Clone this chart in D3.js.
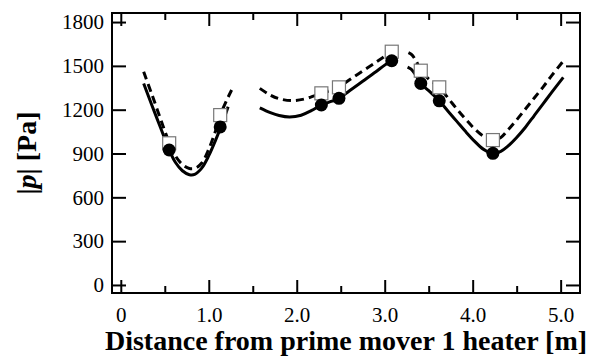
<!DOCTYPE html>
<html>
<head>
<meta charset="utf-8">
<script src="https://cdn.jsdelivr.net/npm/d3@7"></script>
<style>
  body { margin: 0; background: #fff; }
  svg text { font-family: "Liberation Serif", "Times New Roman", serif; }
</style>
</head>
<body>
<div id="chart"></div>
<script>
// measured points (solid line = filled circles, dashed line = open squares)
const markerX = [0.55, 1.13, 2.28, 2.48, 3.08, 3.41, 3.62, 4.23];
const circleP = [924, 1082, 1232, 1278, 1535, 1380, 1261, 901];
const squareP = [970, 1163, 1312, 1353, 1597, 1467, 1353, 992];

// calculated curves, three sections each
const solidX1 = [0.26, 0.35, 0.45, 0.55, 0.62, 0.70, 0.78, 0.84, 0.92, 1.00, 1.08, 1.15, 1.22];
const solidP1 = [1380, 1235, 1080, 925, 840, 782, 755, 757, 800, 885, 995, 1100, 1220];
const solidX2 = [1.58, 1.70, 1.80, 1.92, 2.05, 2.17, 2.28, 2.40, 2.48, 2.60, 2.75, 2.90, 3.00, 3.10];
const solidP2 = [1213, 1180, 1160, 1150, 1162, 1195, 1232, 1258, 1278, 1330, 1395, 1460, 1505, 1545];
const solidX3 = [3.26, 3.30, 3.35, 3.41, 3.50, 3.62, 3.72, 3.82, 3.92, 4.02, 4.12, 4.23, 4.32, 4.40, 4.50, 4.60, 4.70, 4.80, 4.90, 5.03];
const solidP3 = [1492, 1478, 1440, 1380, 1330, 1261, 1190, 1120, 1050, 985, 930, 901, 915, 950, 1010, 1080, 1160, 1240, 1320, 1421];

const dashX1 = [0.26, 0.35, 0.45, 0.55, 0.62, 0.70, 0.78, 0.85, 0.92, 1.00, 1.08, 1.13, 1.20, 1.26];
const dashP1 = [1460, 1310, 1140, 975, 885, 825, 797, 800, 835, 930, 1060, 1160, 1260, 1335];
const dashX2 = [1.58, 1.70, 1.80, 1.95, 2.10, 2.20, 2.28, 2.40, 2.48, 2.60, 2.75, 2.90, 3.00, 3.10];
const dashP2 = [1346, 1300, 1275, 1262, 1275, 1295, 1312, 1335, 1353, 1405, 1465, 1525, 1565, 1605];
const dashX3 = [3.27, 3.31, 3.36, 3.41, 3.50, 3.62, 3.72, 3.82, 3.92, 4.02, 4.12, 4.23, 4.32, 4.40, 4.50, 4.60, 4.70, 4.80, 4.90, 5.04];
const dashP3 = [1590, 1575, 1530, 1467, 1410, 1353, 1280, 1205, 1135, 1070, 1020, 992, 1010, 1060, 1130, 1205, 1280, 1355, 1435, 1540];

const xTicks = [0, 1, 2, 3, 4, 5];
const xMinor = [0.5, 1.5, 2.5, 3.5, 4.5];
const yTicks = [0, 300, 600, 900, 1200, 1500, 1800];

const W = 602, H = 363;
const margin = { left: 112, right: 580, top: 13, bottom: 293 };
const serif = '"Liberation Serif", "Times New Roman", serif';

const svg = d3.select('#chart').append('svg')
  .attr('width', W)
  .attr('height', H);

const x = d3.scaleLinear().domain([-0.1, 5.22]).range([margin.left, margin.right]);
const y = d3.scaleLinear().domain([-55, 1862]).range([margin.bottom, margin.top]);

function styleAxis(g) {
  g.attr('font-family', serif);
  g.select('.domain').remove();
  g.selectAll('line').attr('stroke', '#000').attr('stroke-width', 2);
  g.selectAll('text').attr('font-size', '21px').attr('fill', '#000');
}

// bottom
svg.append('g')
  .attr('transform', `translate(0,${margin.bottom})`)
  .call(d3.axisBottom(x).tickValues(xTicks).tickSize(-13).tickSizeOuter(0).tickPadding(14)
    .tickFormat(d => d === 0 ? '0' : d.toFixed(1)))
  .call(styleAxis);
svg.append('g')
  .attr('transform', `translate(0,${margin.bottom})`)
  .call(d3.axisBottom(x).tickValues(xMinor).tickSize(-7).tickSizeOuter(0).tickFormat(''))
  .call(styleAxis);
// top
svg.append('g')
  .attr('transform', `translate(0,${margin.top})`)
  .call(d3.axisTop(x).tickValues(xTicks).tickSize(-13).tickSizeOuter(0).tickFormat(''))
  .call(styleAxis);
svg.append('g')
  .attr('transform', `translate(0,${margin.top})`)
  .call(d3.axisTop(x).tickValues(xMinor).tickSize(-7).tickSizeOuter(0).tickFormat(''))
  .call(styleAxis);
// left
svg.append('g')
  .attr('transform', `translate(${margin.left},0)`)
  .call(d3.axisLeft(y).tickValues(yTicks).tickSize(-14).tickSizeOuter(0).tickPadding(8)
    .tickFormat(d => String(d)))
  .call(styleAxis);
// right
svg.append('g')
  .attr('transform', `translate(${margin.right},0)`)
  .call(d3.axisRight(y).tickValues(yTicks).tickSize(-14).tickSizeOuter(0).tickFormat(''))
  .call(styleAxis);

svg.append('rect')
  .attr('x', margin.left).attr('y', margin.top)
  .attr('width', margin.right - margin.left).attr('height', margin.bottom - margin.top)
  .attr('fill', 'none').attr('stroke', '#000').attr('stroke-width', 2);

const line = d3.line()
  .x(d => x(d[0]))
  .y(d => y(d[1]))
  .curve(d3.curveCatmullRom.alpha(0.5));

const zip = (a, b) => a.map((v, i) => [v, b[i]]);

[[dashX1, dashP1], [dashX2, dashP2], [dashX3, dashP3]].forEach(([xs, ps]) => {
  svg.append('path')
    .attr('d', line(zip(xs, ps)))
    .attr('fill', 'none')
    .attr('stroke', '#000')
    .attr('stroke-width', 3)
    .attr('stroke-dasharray', '8,5');
});

[[solidX1, solidP1], [solidX2, solidP2], [solidX3, solidP3]].forEach(([xs, ps]) => {
  svg.append('path')
    .attr('d', line(zip(xs, ps)))
    .attr('fill', 'none')
    .attr('stroke', '#000')
    .attr('stroke-width', 3);
});

const sq = 13;
svg.selectAll('.sq')
  .data(zip(markerX, squareP))
  .enter().append('rect')
  .attr('class', 'sq')
  .attr('x', d => x(d[0]) - sq / 2)
  .attr('y', d => y(d[1]) - sq / 2)
  .attr('width', sq)
  .attr('height', sq)
  .attr('fill', '#fff')
  .attr('stroke', '#777')
  .attr('stroke-width', 1.2);

svg.selectAll('.dot')
  .data(zip(markerX, circleP))
  .enter().append('circle')
  .attr('class', 'dot')
  .attr('cx', d => x(d[0]))
  .attr('cy', d => y(d[1]))
  .attr('r', 6.5)
  .attr('fill', '#000');

// axis titles
svg.append('text')
  .attr('x', (margin.left + margin.right) / 2)
  .attr('y', 350)
  .attr('text-anchor', 'middle')
  .attr('font-size', '28px')
  .attr('font-weight', 'bold')
  .text('Distance from prime mover 1 heater [m]');

const yt = svg.append('text')
  .attr('transform', `translate(36,${(margin.top + margin.bottom) / 2}) rotate(-90)`)
  .attr('text-anchor', 'middle')
  .attr('font-size', '28px')
  .attr('font-weight', 'bold');
yt.append('tspan').text('|');
yt.append('tspan').attr('font-style', 'italic').text('p');
yt.append('tspan').text('| [Pa]');
</script>
</body>
</html>
